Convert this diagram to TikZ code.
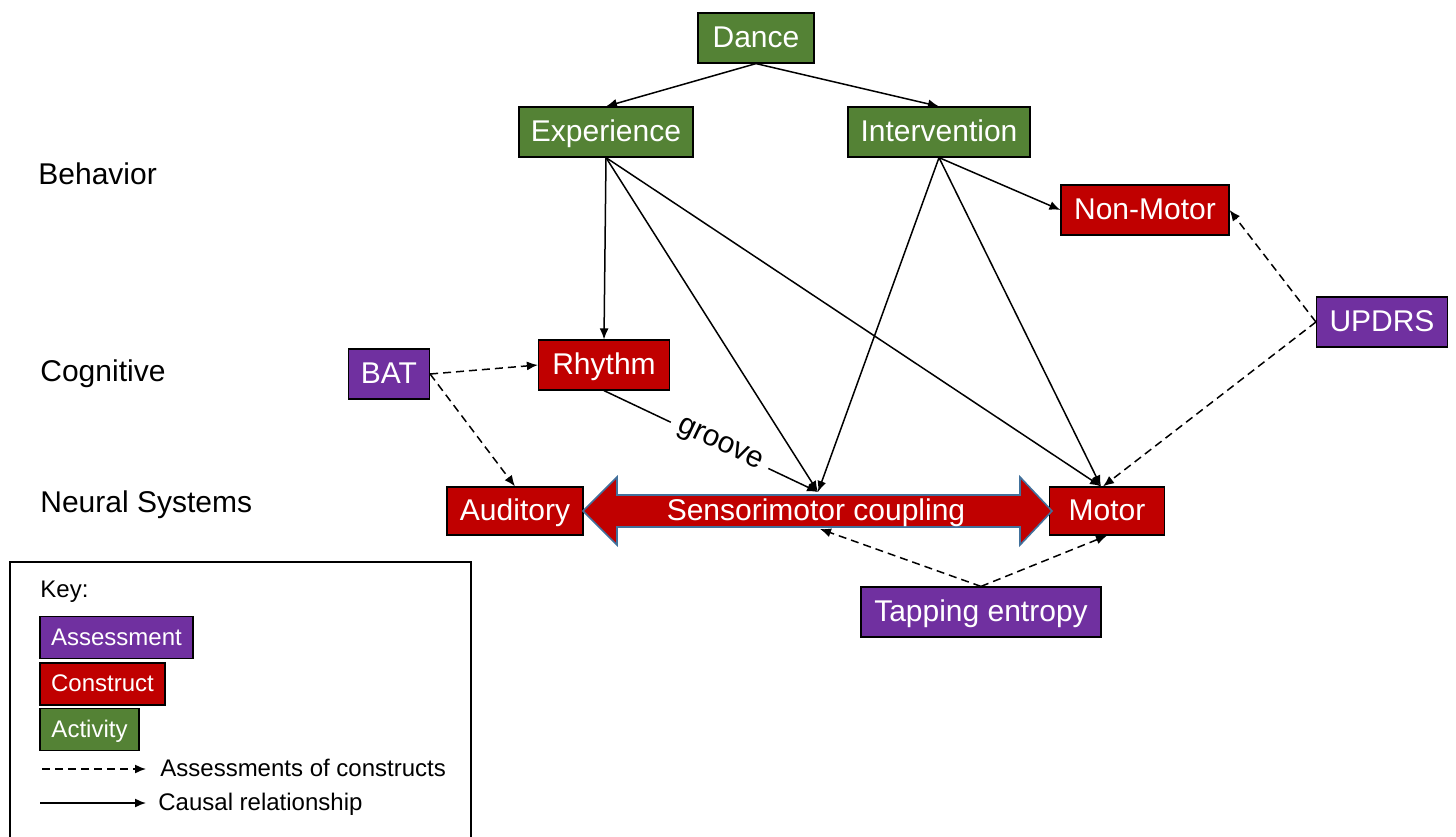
\documentclass[tikz,border=0pt]{standalone}
\usepackage{fontspec}
\setmainfont{Liberation Sans}
\usetikzlibrary{arrows.meta}
\definecolor{cgreen}{HTML}{548235}
\definecolor{cred}{HTML}{C00000}
\definecolor{cpurple}{HTML}{7030A0}
\definecolor{cblue}{HTML}{41719C}
\begin{document}
\begin{tikzpicture}[x=0.5pt,y=-0.5pt,
  box/.style={draw=black, line width=0.6pt, text=white, font=\fontsize{15}{18}\selectfont, minimum height=25pt, inner sep=0pt, text height=11pt, text depth=1.5pt},
  act/.style={box, fill=cgreen},
  con/.style={box, fill=cred},
  asm/.style={box, fill=cpurple},
  keybox/.style={draw=black, line width=0.6pt, text=white, font=\fontsize{12}{14}\selectfont, minimum height=21pt, inner sep=0pt, text height=8.8pt, text depth=1.2pt},
  lvl/.style={anchor=west, font=\fontsize{15}{18}\selectfont, inner sep=0pt, text height=11pt, text depth=1.5pt},
  keytxt/.style={anchor=west, font=\fontsize{12}{14}\selectfont, inner sep=0pt, text height=8.8pt, text depth=1.2pt},
  causal/.style={-{Latex[length=5.5pt,width=4.5pt]}, line width=0.75pt},
  assess/.style={causal, dash pattern=on 4pt off 2.5pt}]
\useasboundingbox (0,0) rectangle (1456,836);
\fill[white] (0,0) rectangle (1456,836);

% level labels
\node[lvl] (lbeh) at (38,175) {Behavior};
\node[lvl] (lcog) at (40,372) {Cognitive};
\node[lvl] (lneu) at (40,503) {Neural Systems};

% nodes
\node[act, minimum width=58pt] (dance) at (756,38) {Dance};
\node[act, minimum width=87pt] (exp) at (606,132) {Experience};
\node[act, minimum width=91pt] (int) at (939,132) {Intervention};
\node[con, minimum width=84pt] (nonmotor) at (1145,210) {Non-Motor};
\node[asm, minimum width=65.5pt] (updrs) at (1382,322) {UPDRS};
\node[asm, minimum width=40.5pt] (bat) at (389,374) {BAT};
\node[con, minimum width=65.5pt] (rhythm) at (604,365) {Rhythm};
\node[con, minimum width=68pt, minimum height=24pt] (aud) at (515,511) {Auditory};
\node[con, minimum width=57.5pt, minimum height=24pt] (motor) at (1107,511) {Motor};
\node[asm, minimum width=120pt] (tap) at (981,612) {Tapping entropy};

% sensorimotor double arrow
\draw[fill=cred, draw=cblue, line width=0.8pt]
  (583,511) -- (617,477) -- (617,495) -- (1020,495) -- (1020,477) -- (1052,511)
  -- (1020,545) -- (1020,527) -- (617,527) -- (617,545) -- cycle;
\node[text=white, font=\fontsize{15}{18}\selectfont, inner sep=0pt, text height=11pt, text depth=1.5pt] (sm) at (816,511) {Sensorimotor coupling};
\coordinate (smtop) at (818,492);
\coordinate (smbot) at (820,529);

% groove line (first, so others lie over it)
\draw[causal] (rhythm.south) -- node[sloped, fill=white, inner sep=4pt, pos=0.54, font=\fontsize{15}{18}\selectfont] (groove) {groove} (smtop);

% causal connectors
\draw[causal] (dance.south) -- (exp.north);
\draw[causal] (dance.south) -- (int.north);
\draw[causal] (exp.south) -- (rhythm.north);
\draw[causal] (exp.south) -- (smtop);
\draw[causal] (exp.south) -- ([xshift=-3pt]motor.north);
\draw[causal] (int.south) -- (smtop);
\draw[causal] (int.south) -- ([xshift=-3pt]motor.north);
\draw[causal] (int.south) -- (nonmotor.west);

% assessment connectors
\draw[assess] (bat.east) -- (rhythm.west);
\draw[assess] (bat.east) -- (aud.north);
\draw[assess] (updrs.west) -- (nonmotor.east);
\draw[assess] (updrs.west) -- ([xshift=-2pt]motor.north);
\draw[assess] (tap.north) -- (smbot);
\draw[assess] (tap.north) -- (motor.south);

% key
\draw[line width=0.7pt] (10,562) rectangle (471,860);
\node[keytxt] (keyt) at (40,590) {Key:};
\node[keybox, fill=cpurple, minimum width=76.5pt] (ka) at (116.5,637.5) {Assessment};
\node[keybox, fill=cred, minimum width=62.5pt] (kc) at (102.5,684) {Construct};
\node[keybox, fill=cgreen, minimum width=49.5pt] (kv) at (89.5,729.5) {Activity};
\coordinate (kd1) at (42,769);
\coordinate (kd2) at (146,769);
\coordinate (ks1) at (40,803);
\coordinate (ks2) at (146,803);
\draw[assess] (kd1) -- (kd2);
\draw[causal] (ks1) -- (ks2);
\node[keytxt] (kdt) at (160,769) {Assessments of constructs};
\node[keytxt] (kst) at (158,803) {Causal relationship};
\end{tikzpicture}
\end{document}
